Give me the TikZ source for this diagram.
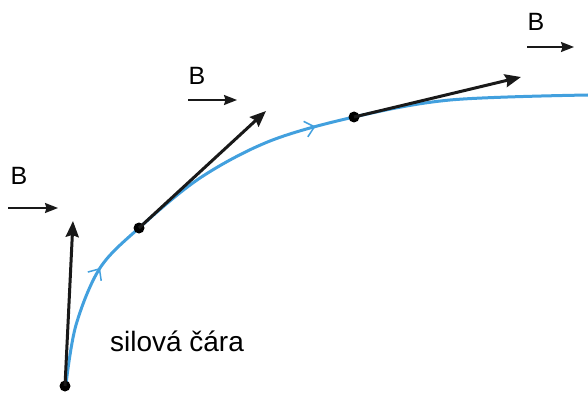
\documentclass[tikz,border=0pt]{standalone}
\usepackage{fontspec}
\setmainfont{Liberation Sans}
\usetikzlibrary{arrows.meta,decorations.markings}
\definecolor{lineblue}{RGB}{66,160,222}
\tikzset{
  vec/.style={line width=3pt,draw=black!90,-{Stealth[length=16pt,width=13pt,inset=2pt]}},
  bvec/.style={line width=2pt,draw=black!90,-{Stealth[length=13pt,width=10pt,inset=1.5pt]}},
  dotpt/.style={circle,fill=black,inner sep=0pt,minimum size=11pt},
  blab/.style={font=\fontsize{25}{29}\selectfont,inner sep=0pt},
  field/.style={line width=3pt,draw=lineblue,
    postaction={decorate,decoration={markings,
      mark=at position 122pt with {\arrow[lineblue,line width=1.5pt]{Straight Barb[length=9pt,width=16pt]}},
      mark=at position 384pt with {\arrow[lineblue,line width=1.5pt]{Straight Barb[length=9pt,width=16pt]}}}}}
}
\begin{document}
\begin{tikzpicture}[x=1pt,y=-1pt]
\useasboundingbox (0,0) rectangle (588,398);
% field line
\draw[field] plot[smooth,tension=0.55] coordinates {(66,384) (76,325) (100,268) (139,228) (200,178) (270,141) (354,117) (450,100) (588,95)};
% points
\node[dotpt] (p1) at (65,386) {};
\node[dotpt] (p2) at (139,228) {};
\node[dotpt] (p3) at (354,117) {};
\coordinate (t1) at (73,221);
\coordinate (t2) at (266,111);
\coordinate (t3) at (521,77);
\draw[vec] (p1.center) -- (t1);
\draw[vec] (p2.center) -- (t2);
\draw[vec] (p3.center) -- (t3);
% B labels
\node[blab] (b1) at (19,176) {B};
\coordinate (b1s) at (8,208); \coordinate (b1e) at (58,208);
\draw[bvec] (b1s) -- (b1e);
\node[blab] (b2) at (197,76) {B};
\coordinate (b2s) at (188,100); \coordinate (b2e) at (237,100);
\draw[bvec] (b2s) -- (b2e);
\node[blab] (b3) at (536,22) {B};
\coordinate (b3s) at (527,47); \coordinate (b3e) at (574,47);
\draw[bvec] (b3s) -- (b3e);
% label
\node[font=\fontsize{28}{32}\selectfont,inner sep=0pt] (lab) at (177,341) {silová čára};
\end{tikzpicture}
\end{document}
